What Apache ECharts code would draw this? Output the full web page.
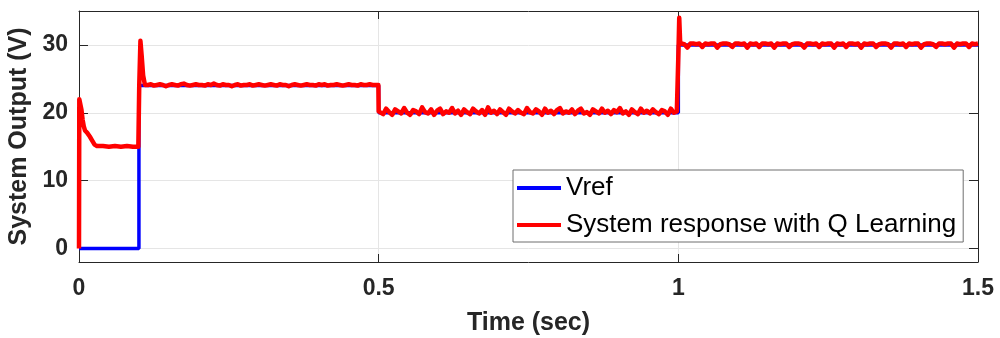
<!DOCTYPE html>
<html><head><meta charset="utf-8">
<script src="https://cdn.jsdelivr.net/npm/echarts@6/dist/echarts.min.js"></script>
<style>html,body{margin:0;padding:0;background:#fff}#c{width:1000px;height:338px}</style>
</head><body><div id="c"></div>
<script>
// ---- data ----
const seriesNames = ['Vref', 'System response with Q Learning'];
const xTicks = [0, 0.5, 1, 1.5];
const yTicks = [0, 10, 20, 30];
// Vref step profile [time, volts]
const vref = [[0,0],[0.1,0],[0.1,24],[0.5,24],[0.5,20],[1.0,20],[1.0,30],[1.5,30]];
// Q-learning response: start-up transient and step at 0.1 s
const qStart = [[0,0],[0.0005,22.0],[0.002,21.8],[0.004,20.5],[0.006,19.0],[0.008,18.0],[0.010,17.4],
  [0.014,17.0],[0.018,16.5],[0.022,15.9],[0.026,15.3],[0.030,15.1],[0.04,15.1],[0.05,15.0],[0.06,15.1],
  [0.07,15.0],[0.08,15.1],[0.09,15.0],[0.099,15.0],[0.1005,24],[0.1025,30.6],[0.1045,28.5],[0.107,25.5],[0.11,24.1]];
// level 24 V, sampled every 5 ms from 0.115 s
const q24t0 = 0.115, q24dt = 0.005;
const q24 = [24.1,24.2,24.0,24.1,24.2,24.1,23.9,24.1,24.2,24.1,24.0,24.2,24.3,24.1,24.0,24.1,24.2,24.1,24.1,24.0,
  24.2,24.1,24.3,24.1,24.0,24.2,24.1,24.1,23.9,24.1,24.2,24.0,24.1,24.1,24.2,24.0,24.1,24.2,24.1,24.0,
  24.1,24.2,24.1,24.0,24.2,24.1,24.1,23.9,24.1,24.2,24.1,24.0,24.1,24.2,24.1,24.1,24.0,24.2,24.1,24.2,
  24.0,24.1,24.1,24.2,24.1,24.0,24.1,24.2,24.1,24.1,24.0,24.2,24.1,24.1,24.2,24.1,24.1];
// level 20 V, every 5 ms from 0.5025 s
const q20t0 = 0.5025, q20dt = 0.005;
const q20 = [20.3,19.8,20.6,20.1,19.7,20.5,20.2,19.9,20.7,20.0,
  19.7,20.4,20.2,19.8,20.8,20.1,19.9,20.5,19.7,20.3,
  20.6,19.8,20.2,20.0,20.7,19.9,20.3,19.7,20.5,20.1,
  19.8,20.6,20.2,19.9,20.4,19.7,20.8,20.0,20.3,19.8,
  20.5,20.1,19.7,20.6,20.2,19.9,20.4,20.0,19.8,20.7,
  20.1,19.9,20.5,20.2,19.7,20.6,20.0,20.3,19.8,20.4,
  20.7,19.9,20.2,20.0,20.5,19.8,20.3,20.6,19.9,20.1,
  19.7,20.5,20.2,19.9,20.6,20.0,20.3,19.8,20.4,20.1,
  20.7,19.9,20.2,19.7,20.5,20.1,19.8,20.6,20.0,20.3,
  19.9,20.5,20.1,19.8,20.4,20.2,19.7,20.6,20.0,20.2];
// step at 1.0 s
const qStep30 = [[1.0,20.2],[1.0005,30.0],[1.0015,34.0],[1.003,30.5]];
// level 30 V, every 5 ms from 1.005 s
const q30t0 = 1.005, q30dt = 0.005;
const q30 = [30.2,30.1,29.6,30.2,30.2,30.1,30.2,29.7,30.2,30.1,
  30.2,30.2,29.6,30.1,30.2,30.2,30.1,29.7,30.2,30.2,
  30.1,30.2,29.6,30.2,30.1,30.2,29.7,30.2,30.2,30.1,
  30.2,29.6,30.2,30.1,30.2,30.2,29.7,30.1,30.2,30.2,
  30.1,29.6,30.2,30.2,30.1,30.2,29.7,30.2,30.1,30.2,
  30.2,29.6,30.2,30.1,30.2,29.7,30.2,30.2,30.1,30.2,
  29.6,30.2,30.1,30.2,30.2,29.7,30.1,30.2,30.2,30.1,
  29.6,30.2,30.2,30.1,30.2,29.7,30.2,30.1,30.2,30.2,
  29.6,30.1,30.2,30.2,30.1,29.7,30.2,30.2,30.1,30.2,
  30.2,29.6,30.2,30.1,30.2,30.2,29.7,30.2,30.1,30.2];

// ---- build ----
function seg(t0, dt, vals){ return vals.map((v,i)=>[+(t0+i*dt).toFixed(4), v]); }
const qData = [].concat(qStart, seg(q24t0,q24dt,q24), [[0.4995,24.1],[0.5,20.2]],
  seg(q20t0,q20dt,q20), qStep30, seg(q30t0,q30dt,q30));

const dark = '#262626';
const font = 'Liberation Sans, Arial, sans-serif';
const chart = echarts.init(document.getElementById('c'), null, {renderer:'canvas'});
chart.setOption({
  animation: false,
  backgroundColor: '#fff',
  grid: {left: 79, right: 22, top: 11, bottom: 76, show: false, containLabel: false, outerBoundsMode: 'none'},
  legend: {
    data: seriesNames,
    orient: 'vertical',
    left: 513, top: 170,
    backgroundColor: '#fff',
    borderColor: '#6e6e6e', borderWidth: 1,
    padding: [3, 7, 2, 4],
    itemWidth: 44, itemHeight: 4, itemGap: 7,
    icon: 'rect',
    textStyle: {fontFamily: font, fontSize: 26, color: '#000', lineHeight: 30}
  },
  xAxis: [{
    type: 'value', min: 0, max: 1.5, interval: 0.5,
    name: 'Time (sec)', nameLocation: 'middle', nameGap: 49,
    nameTextStyle: {fontFamily: font, fontSize: 25, fontWeight: 'bold', color: dark},
    axisLine: {show: true, onZero: false, lineStyle: {color: dark, width: 1}},
    axisTick: {show: true, inside: true, length: 8, lineStyle: {color: dark}},
    axisLabel: {fontFamily: font, fontSize: 23, fontWeight: 'bold', color: dark, margin: 15,
      customValues: xTicks, formatter: v => String(v)},
    splitLine: {show: true, lineStyle: {color: '#e5e5e5', width: 1}}
  },{
    type: 'value', min: 0, max: 1.5, interval: 0.5, position: 'top',
    axisLine: {show: true, onZero: false, lineStyle: {color: dark, width: 1}},
    axisTick: {show: true, inside: true, length: 8, lineStyle: {color: dark}},
    axisLabel: {show: false}, splitLine: {show: false}
  }],
  yAxis: [{
    type: 'value', min: -2, max: 35,
    name: 'System Output (V)', nameLocation: 'middle', nameGap: 42,
    nameTextStyle: {fontFamily: font, fontSize: 25, fontWeight: 'bold', color: dark},
    axisLine: {show: true, onZero: false, lineStyle: {color: dark, width: 1}},
    axisTick: {show: true, inside: true, length: 9, lineStyle: {color: dark}, customValues: yTicks},
    axisLabel: {fontFamily: font, fontSize: 23, fontWeight: 'bold', color: dark, margin: 11,
      customValues: yTicks},
    splitLine: {show: true, lineStyle: {color: '#e5e5e5', width: 1}}
  },{
    type: 'value', min: -2, max: 35, position: 'right',
    axisLine: {show: true, onZero: false, lineStyle: {color: dark, width: 1}},
    axisTick: {show: true, inside: true, length: 9, lineStyle: {color: dark}, customValues: yTicks},
    axisLabel: {show: false}, splitLine: {show: false}
  }],
  series: [{
    name: seriesNames[0], type: 'line', data: vref, showSymbol: false,
    color: '#0000ff', lineStyle: {color: '#0000ff', width: 3.5}, z: 2
  },{
    name: seriesNames[1], type: 'line', data: qData, showSymbol: false,
    color: '#ff0000', lineStyle: {color: '#ff0000', width: 4.5, join: 'round'}, z: 3
  }]
});
</script></body></html>
